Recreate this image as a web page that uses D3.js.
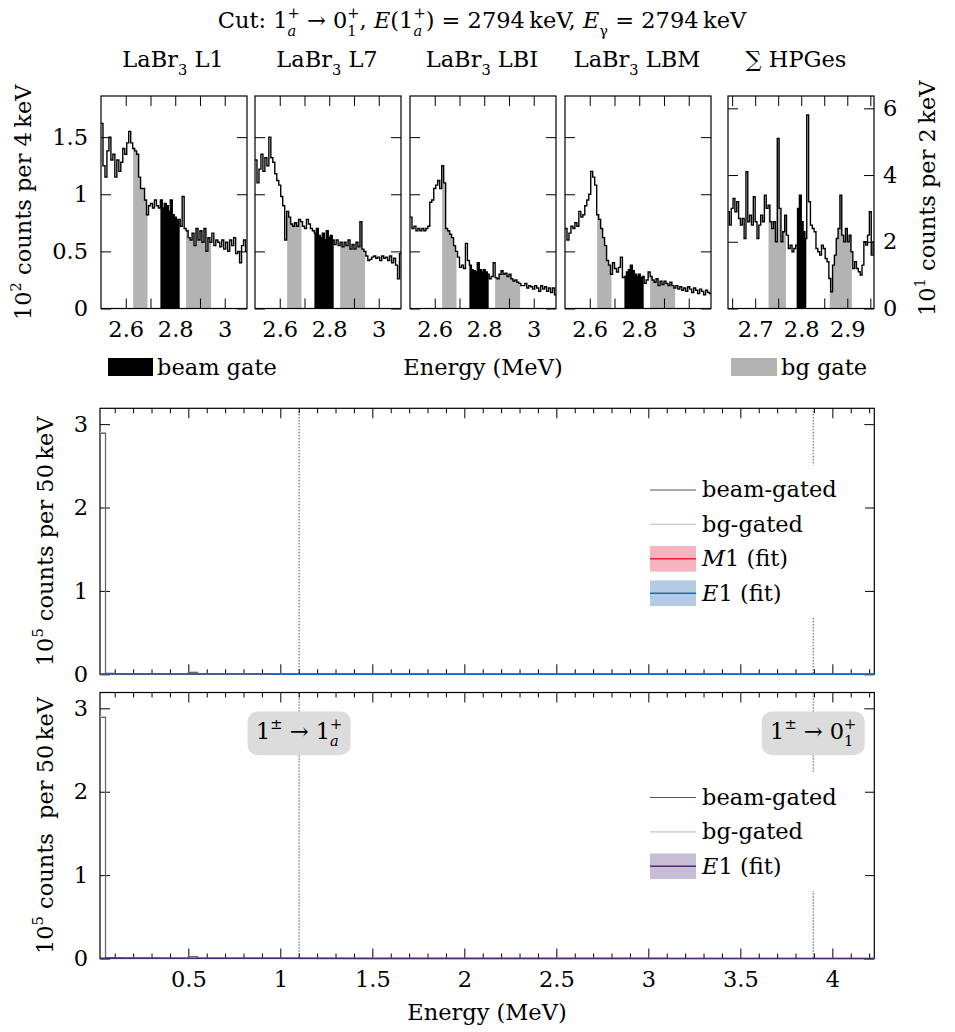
<!DOCTYPE html>
<html>
<head>
<meta charset="utf-8">
<script src="https://cdn.jsdelivr.net/npm/d3@7"></script>
<style>
  body { margin: 0; background: #fff; }
  svg, svg text { font-family: 'DejaVu Serif', 'Liberation Serif', serif; }
</style>
</head>
<body>
<svg id="drawing_region"></svg>
<script>
// ---- data: gated spectra (top row), units of 10^2 counts (LaBr) and 10^1 counts (HPGe)
const labrStart = 2.5, labrStep = 0.008;   // MeV
const hpgeStart = 2.64, hpgeStep = 0.004;  // MeV

const l1Counts = [1.62, 1.25, 1.15, 1.38, 1.5, 1.3, 1.35, 1.15, 1.3, 1.2,
  1.28, 1.4, 1.35, 1.45, 1.55, 1.45, 1.4, 1.38, 1.35, 1.15,
  1.05, 1.05, 0.95, 0.82, 0.9, 0.92, 0.88, 0.95, 0.9, 0.88,
  0.95, 0.88, 0.92, 0.9, 0.85, 0.95, 0.82, 0.8, 0.78, 0.78,
  0.72, 0.98, 0.7, 0.68, 0.62, 0.6, 0.66, 0.55, 0.7, 0.6,
  0.68, 0.58, 0.7, 0.5, 0.62, 0.58, 0.66, 0.55, 0.6, 0.58,
  0.54, 0.6, 0.52, 0.58, 0.5, 0.6, 0.55, 0.62, 0.48, 0.5,
  0.4, 0.55, 0.6, 0.5];

const l7Counts = [1.3, 1.1, 1.22, 1.35, 1.2, 1.32, 1.25, 1.5, 1.32, 1.28,
  1.18, 1.12, 1.08, 0.98, 0.9, 0.6, 0.85, 0.8, 0.74, 0.72,
  0.75, 0.72, 0.78, 0.76, 0.72, 0.7, 0.78, 0.74, 0.7, 0.68,
  0.66, 0.7, 0.64, 0.62, 0.66, 0.6, 0.68, 0.62, 0.64, 0.6,
  0.56, 0.6, 0.55, 0.58, 0.54, 0.58, 0.55, 0.6, 0.52, 0.56,
  0.52, 0.58, 0.54, 0.76, 0.52, 0.5, 0.46, 0.42, 0.43, 0.45,
  0.46, 0.44, 0.45, 0.42, 0.46, 0.44, 0.45, 0.42, 0.46, 0.4,
  0.44, 0.38, 0.26, 0.48];

const lbiCounts = [0.8, 0.7, 0.72, 0.68, 0.7, 0.68, 0.7, 0.68, 0.7, 0.72,
  0.93, 0.95, 1.05, 1.08, 1.12, 1.05, 1.25, 1.1, 0.7, 0.68,
  0.65, 0.62, 0.55, 0.5, 0.45, 0.36, 0.38, 0.35, 0.57, 0.42,
  0.38, 0.34, 0.33, 0.32, 0.4, 0.34, 0.32, 0.34, 0.32, 0.3,
  0.26, 0.28, 0.4, 0.27, 0.26, 0.3, 0.33, 0.3, 0.31, 0.28,
  0.3, 0.26, 0.24, 0.25, 0.23, 0.22, 0.2, 0.2, 0.22, 0.18,
  0.2, 0.19, 0.17, 0.2, 0.18, 0.15, 0.2, 0.17, 0.19, 0.15,
  0.18, 0.14, 0.18, 0.12];

const lbmCounts = [0.7, 0.6, 0.66, 0.72, 0.7, 0.75, 0.72, 0.85, 0.8, 0.82,
  0.9, 0.95, 1.0, 1.2, 1.15, 1.08, 0.82, 0.78, 0.7, 0.62,
  0.55, 0.42, 0.38, 0.3, 0.4, 0.35, 0.32, 0.36, 0.45, 0.27,
  0.28, 0.32, 0.34, 0.38, 0.33, 0.3, 0.28, 0.3, 0.27, 0.28,
  0.22, 0.25, 0.32, 0.28, 0.25, 0.23, 0.26, 0.2, 0.24, 0.21,
  0.24, 0.22, 0.2, 0.23, 0.2, 0.18, 0.2, 0.17, 0.19, 0.16,
  0.18, 0.15, 0.19, 0.17, 0.14, 0.18, 0.16, 0.13, 0.17, 0.15,
  0.12, 0.16, 0.14, 0.13];

const hpgeCounts = [2.9, 2.5, 3.0, 3.3, 2.9, 3.2, 2.7, 2.5, 2.7, 2.1,
  4.1, 2.6, 2.8, 2.5, 3.35, 2.6, 2.1, 2.5, 2.8, 2.6,
  3.4, 3.0, 3.1, 2.6, 2.4, 2.6, 2.0, 5.1, 3.0, 2.0,
  2.3, 2.8, 2.2, 1.8, 1.9, 1.7, 1.8, 1.9, 3.0, 3.4,
  2.6, 2.3, 2.1, 5.8, 3.2, 2.5, 2.4, 2.3, 1.8, 1.7,
  1.6, 1.9, 1.8, 1.5, 1.4, 0.9, 0.5, 1.3, 1.6, 2.1,
  2.4, 3.4, 2.2, 2.0, 2.4, 2.0, 2.2, 1.7, 1.2, 1.4,
  1.2, 1.1, 1.0, 1.3, 2.0, 1.9, 2.2, 2.9, 1.6, 2.0];

const labrBeamGate = [2.74, 2.818];
const labrBgGates = [[2.63, 2.688], [2.844, 2.945]];
const hpgeBeamGate = [2.790, 2.811];
const hpgeBgGates = [[2.729, 2.767], [2.862, 2.910]];

const labrTicks = [2.6, 2.7, 2.8, 2.9, 3.0];
const labrTickLabels = [2.6, 2.8, 3];
const hpgeTicks = [2.65, 2.7, 2.75, 2.8, 2.85, 2.9, 2.95];
const hpgeTickLabels = [2.7, 2.8, 2.9];
const labrYTicks = [0, 0.5, 1, 1.5];
const hpgeYTicks = [0, 2, 4, 6];

// ---- data: full spectra (lower panels), units of 10^5 counts per 50 keV, bins from 0 MeV
const wideStep = 0.05;
const beamGated = [2.89, 0.011, 0.008, 0.006, 0.005, 0.004, 0.004, 0.003, 0.003, 0.003,
  0.024, 0.003, 0.002, 0.002, 0.002, 0.002, 0.002, 0.002, 0.0015, 0.0015,
  0.0015, 0.0015, 0.0015, 0.0012, 0.0012, 0.0012, 0.0012, 0.001, 0.001, 0.001,
  0.001, 0.001, 0.001, 0.0009, 0.0009, 0.0009, 0.0008, 0.0008, 0.0008, 0.0008,
  0.0007, 0.0007, 0.0007, 0.0007, 0.0006, 0.0006, 0.0006, 0.0006, 0.0006, 0.0005,
  0.0005, 0.0005, 0.0005, 0.0005, 0.0005, 0.0004, 0.0004, 0.0004, 0.0004, 0.0004,
  0.0004, 0.0004, 0.0003, 0.0003, 0.0003, 0.0003, 0.0003, 0.0003, 0.0003, 0.0003,
  0.0003, 0.0003, 0.0002, 0.0002, 0.0002, 0.0002, 0.0002, 0.0002, 0.0002, 0.0002,
  0.0002, 0.0002, 0.0002, 0.0002, 0.0002];
const bgGated = [2.9, 0.012, 0.008, 0.006, 0.005, 0.004, 0.004, 0.003, 0.003, 0.003,
  0.023, 0.003, 0.002, 0.002, 0.002, 0.002, 0.002, 0.002, 0.0015, 0.0015,
  0.0015, 0.0015, 0.0015, 0.0012, 0.0012, 0.0012, 0.0012, 0.001, 0.001, 0.001,
  0.001, 0.001, 0.001, 0.0009, 0.0009, 0.0009, 0.0008, 0.0008, 0.0008, 0.0008,
  0.0007, 0.0007, 0.0007, 0.0007, 0.0006, 0.0006, 0.0006, 0.0006, 0.0006, 0.0005,
  0.0005, 0.0005, 0.0005, 0.0005, 0.0005, 0.0004, 0.0004, 0.0004, 0.0004, 0.0004,
  0.0004, 0.0004, 0.0003, 0.0003, 0.0003, 0.0003, 0.0003, 0.0003, 0.0003, 0.0003,
  0.0003, 0.0003, 0.0002, 0.0002, 0.0002, 0.0002, 0.0002, 0.0002, 0.0002, 0.0002,
  0.0002, 0.0002, 0.0002, 0.0002, 0.0002];

const fitEnergy = [0.02, 0.5, 1.0, 1.5, 2.0, 2.5, 3.0, 3.5, 4.0, 4.23];
const m1Fit = [0.004, 0.003, 0.002, 0.0015, 0.0012, 0.001, 0.0008, 0.0006, 0.0005, 0.0004];
const e1Fit = [0.004, 0.003, 0.002, 0.0015, 0.0012, 0.001, 0.0008, 0.0006, 0.0005, 0.0004];
const e1FitBottom = [0.004, 0.003, 0.002, 0.0015, 0.0012, 0.001, 0.0008, 0.0006, 0.0005, 0.0004];

const transitionEnergies = [1.102, 3.896];
const wideMajorTicks = [0.5, 1, 1.5, 2, 2.5, 3, 3.5, 4];
const wideMinorTicks = [0.1, 0.2, 0.3, 0.4, 0.6, 0.7, 0.8, 0.9, 1.1, 1.2, 1.3, 1.4, 1.6, 1.7, 1.8, 1.9,
  2.1, 2.2, 2.3, 2.4, 2.6, 2.7, 2.8, 2.9, 3.1, 3.2, 3.3, 3.4, 3.6, 3.7, 3.8, 3.9, 4.1, 4.2];
const wideYTicks = [0, 1, 2, 3];

// ---- drawing
const FS = 22.5;
const GATE_GRAY = '#b3b3b3';
const svg = d3.select('#drawing_region').attr('width', 955).attr('height', 1032);

// text with super-/subscripts; a 'stack' part is set under the preceding superscript
function richText(parent, parts, size) {
    const text = parent.append('text').attr('font-size', size).attr('fill', '#000');
    let level = 0, supW = 0, pendingDx = 0;
    parts.forEach(p => {
        const target = p.s === 'sup' ? -0.44 * size : (p.s === 'sub' ? 0.34 * size : 0);
        const ts = text.append('tspan').text(p.t).attr('dy', target - level);
        level = target;
        if (p.s) ts.attr('font-size', size * 0.65);
        if (p.i) ts.attr('font-style', 'italic');
        if (p.stack) {
            ts.attr('dx', -supW);
            const w = ts.node().getComputedTextLength();
            pendingDx = Math.max(0, supW - w);
        } else {
            if (pendingDx) ts.attr('dx', pendingDx);
            pendingDx = 0;
        }
        if (p.s === 'sup') supW = ts.node().getComputedTextLength();
    });
    return text;
}

function styleAxis(g) {
    g.attr('font-family', null).attr('font-size', null);
    g.select('.domain').remove();
    g.selectAll('.tick line').attr('stroke', '#000').attr('stroke-width', 1);
    g.selectAll('.tick text').attr('font-size', FS).attr('fill', '#000');
}

function histPoints(counts, start, step) {
    const pts = counts.map((v, i) => [start + i * step, v]);
    pts.push([start + counts.length * step, counts[counts.length - 1]]);
    return pts;
}

function gatePoints(counts, start, step, gate) {
    const pts = [];
    counts.forEach((v, i) => {
        const e0 = start + i * step, e1 = e0 + step;
        if (e1 > gate[0] && e0 < gate[1]) pts.push([Math.max(e0, gate[0]), v]);
    });
    pts.push([gate[1], pts[pts.length - 1][1]]);
    return pts;
}

// title
richText(svg, [{ t: 'Cut:  1' }, { t: '+', s: 'sup' }, { t: 'a', s: 'sub', i: true, stack: true },
    { t: ' \u2192 0' }, { t: '+', s: 'sup' }, { t: '1', s: 'sub', stack: true }, { t: ', ' },
    { t: 'E', i: true }, { t: '(1' }, { t: '+', s: 'sup' }, { t: 'a', s: 'sub', i: true, stack: true },
    { t: ') = 2794\u2009keV, ' }, { t: 'E', i: true }, { t: '\u03b3', s: 'sub' }, { t: ' = 2794\u2009keV' }], FS)
    .attr('x', 482).attr('y', 28).attr('text-anchor', 'middle');

const insetTop = 96, insetHeight = 212.5, insetWidth = 146;
const insets = [
    { id: 'l1', name: 'L1', left: 101, counts: l1Counts, labr: true, yLabels: true },
    { id: 'l7', name: 'L7', left: 255, counts: l7Counts, labr: true },
    { id: 'lbi', name: 'LBI', left: 410, counts: lbiCounts, labr: true },
    { id: 'lbm', name: 'LBM', left: 565, counts: lbmCounts, labr: true },
    { id: 'hpge', name: 'HPGes', left: 728, counts: hpgeCounts, labr: false }
];

insets.forEach(cfg => {
    const start = cfg.labr ? labrStart : hpgeStart;
    const step = cfg.labr ? labrStep : hpgeStep;
    const x = d3.scaleLinear().domain(cfg.labr ? [2.5, 3.09] : [2.641, 2.958]).range([0, insetWidth]);
    const y = d3.scaleLinear().domain(cfg.labr ? [0, 1.86] : [0, 6.37]).range([insetHeight, 0]);
    const g = svg.append('g').attr('transform', `translate(${cfg.left},${insetTop})`);

    g.append('clipPath').attr('id', 'clip-' + cfg.id)
        .append('rect').attr('width', insetWidth).attr('height', insetHeight);
    const plot = g.append('g').attr('clip-path', `url(#clip-${cfg.id})`);

    const area = d3.area().curve(d3.curveStepAfter)
        .x(d => x(d[0])).y0(insetHeight).y1(d => y(d[1]));
    const line = d3.line().curve(d3.curveStepAfter)
        .x(d => x(d[0])).y(d => y(d[1]));

    (cfg.labr ? labrBgGates : hpgeBgGates).forEach(gate => {
        plot.append('path').attr('d', area(gatePoints(cfg.counts, start, step, gate))).attr('fill', GATE_GRAY);
    });
    plot.append('path')
        .attr('d', area(gatePoints(cfg.counts, start, step, cfg.labr ? labrBeamGate : hpgeBeamGate)))
        .attr('fill', '#000');
    plot.append('path').attr('d', line(histPoints(cfg.counts, start, step)))
        .attr('fill', 'none').attr('stroke', '#000').attr('stroke-width', 1.4);

    const ticks = cfg.labr ? labrTicks : hpgeTicks;
    const labels = cfg.labr ? labrTickLabels : hpgeTickLabels;
    const fmt = d => labels.some(l => Math.abs(l - d) < 1e-6) ? String(+d.toFixed(2)) : '';
    const yTicks = cfg.labr ? labrYTicks : hpgeYTicks;

    g.append('g').attr('transform', `translate(0,${insetHeight})`)
        .call(d3.axisBottom(x).tickValues(ticks).tickSizeInner(-10).tickSizeOuter(0).tickPadding(13).tickFormat(fmt))
        .call(styleAxis);
    g.append('g')
        .call(d3.axisTop(x).tickValues(ticks).tickSizeInner(-10).tickSizeOuter(0).tickFormat(''))
        .call(styleAxis);
    g.append('g')
        .call(d3.axisLeft(y).tickValues(yTicks).tickSizeInner(-10).tickSizeOuter(0).tickPadding(13)
            .tickFormat(cfg.yLabels ? d => d : ''))
        .call(styleAxis);
    g.append('g').attr('transform', `translate(${insetWidth},0)`)
        .call(d3.axisRight(y).tickValues(yTicks).tickSizeInner(-10).tickSizeOuter(0).tickPadding(9)
            .tickFormat(cfg.labr ? '' : d => d))
        .call(styleAxis);

    g.append('rect').attr('width', insetWidth).attr('height', insetHeight)
        .attr('fill', 'none').attr('stroke', '#000').attr('stroke-width', 1.2);

    const nameParts = cfg.labr ? [{ t: 'LaBr' }, { t: '3', s: 'sub' }, { t: ' ' + cfg.name }] : [{ t: '\u2211 HPGes' }];
    richText(g, nameParts, FS).attr('x', insetWidth / 2 - (cfg.labr ? 1 : 5)).attr('y', 67 - insetTop)
        .attr('text-anchor', 'middle');
});

richText(svg, [{ t: '10' }, { t: '2', s: 'sup' }, { t: ' counts per 4\u2009keV' }], FS)
    .attr('text-anchor', 'middle').attr('transform', `translate(31,${insetTop + insetHeight / 2}) rotate(-90)`);
richText(svg, [{ t: '10' }, { t: '1', s: 'sup' }, { t: ' counts per 2\u2009keV' }], FS)
    .attr('text-anchor', 'middle').attr('transform', `translate(935,${insetTop + insetHeight / 2 - 4}) rotate(-90)`);

// gate legend row
svg.append('rect').attr('x', 108).attr('y', 358).attr('width', 45).attr('height', 18).attr('fill', '#000');
svg.append('text').attr('x', 157).attr('y', 375).attr('font-size', FS).text('beam gate');
svg.append('text').attr('x', 483).attr('y', 375).attr('font-size', FS).attr('text-anchor', 'middle').text('Energy (MeV)');
svg.append('rect').attr('x', 731).attr('y', 358).attr('width', 46).attr('height', 18).attr('fill', GATE_GRAY);
svg.append('text').attr('x', 781).attr('y', 375).attr('font-size', FS).text('bg gate');

// ---- lower panels
const wideLeft = 100, wideWidth = 774.3, wideHeight = 266;
const wx = d3.scaleLinear().domain([0.02, 4.228]).range([0, wideWidth]);
const wy = d3.scaleLinear().domain([0, 3.19]).range([wideHeight, 0]);

const widePanels = [
    {
        id: 'm1e1', top: 408.3, xLabels: false,
        fits: [{ values: m1Fit, band: '#f5b4be', color: '#e3212c', label: [{ t: 'M', i: true }, { t: '1 (fit)' }] },
               { values: e1Fit, band: '#b3cce3', color: '#1c68b0', label: [{ t: 'E', i: true }, { t: '1 (fit)' }] }],
        legendY: 490,
        ylabel: [{ t: '10' }, { t: '5', s: 'sup' }, { t: ' counts per 50\u2009keV' }]
    },
    {
        id: 'e1', top: 692.5, xLabels: true,
        fits: [{ values: e1FitBottom, band: '#c8bdd7', color: '#4b2b73', label: [{ t: 'E', i: true }, { t: '1 (fit)' }] }],
        legendY: 797.5, boxes: true,
        ylabel: [{ t: '10' }, { t: '5', s: 'sup' }, { t: ' counts\u00a0 per 50\u2009keV' }]
    }
];

widePanels.forEach(cfg => {
    const g = svg.append('g').attr('transform', `translate(${wideLeft},${cfg.top})`);
    g.append('clipPath').attr('id', 'clip-' + cfg.id)
        .append('rect').attr('y', -2).attr('width', wideWidth).attr('height', wideHeight + 4);

    g.append('rect').attr('width', wideWidth).attr('height', wideHeight)
        .attr('fill', 'none').attr('stroke', '#000').attr('stroke-width', 1.2);

    // ticks inside the frame: minor every 0.1 MeV, major every 0.5 MeV
    g.append('g').attr('transform', `translate(0,${wideHeight})`)
        .call(d3.axisBottom(wx).tickValues(wideMinorTicks).tickSizeInner(-5).tickSizeOuter(0).tickFormat(''))
        .call(styleAxis);
    g.append('g')
        .call(d3.axisTop(wx).tickValues(wideMinorTicks).tickSizeInner(-5).tickSizeOuter(0).tickFormat(''))
        .call(styleAxis);
    g.append('g')
        .call(d3.axisTop(wx).tickValues(wideMajorTicks).tickSizeInner(-10).tickSizeOuter(0).tickFormat(''))
        .call(styleAxis);
    g.append('g').attr('transform', `translate(0,${wideHeight})`)
        .call(d3.axisBottom(wx).tickValues(wideMajorTicks).tickSizeInner(-10).tickSizeOuter(0).tickPadding(13)
            .tickFormat(cfg.xLabels ? d => d : ''))
        .call(styleAxis);
    g.append('g')
        .call(d3.axisLeft(wy).tickValues(wideYTicks).tickSizeInner(-10).tickSizeOuter(0).tickPadding(12)
            .tickFormat(d => d))
        .call(styleAxis);
    g.append('g').attr('transform', `translate(${wideWidth},0)`)
        .call(d3.axisRight(wy).tickValues(wideYTicks).tickSizeInner(-10).tickSizeOuter(0).tickFormat(''))
        .call(styleAxis);

    // transition markers
    transitionEnergies.forEach(e => {
        g.append('line').attr('x1', wx(e)).attr('x2', wx(e)).attr('y1', 0).attr('y2', wideHeight)
            .attr('stroke', '#000').attr('stroke-width', 1).attr('stroke-dasharray', '1,2');
    });

    const plot = g.append('g').attr('clip-path', `url(#clip-${cfg.id})`);
    const line = d3.line().curve(d3.curveStepAfter).x(d => wx(d[0])).y(d => wy(d[1]));
    plot.append('path').attr('d', line(histPoints(bgGated, 0, wideStep)))
        .attr('fill', 'none').attr('stroke', '#c4c4c4').attr('stroke-width', 1.2);
    plot.append('path').attr('d', line(histPoints(beamGated, 0, wideStep)))
        .attr('fill', 'none').attr('stroke', '#666').attr('stroke-width', 1.2);

    const fitLine = d3.line().x((d, i) => wx(fitEnergy[i])).y(d => wy(d));
    const fitBand = d3.area().x((d, i) => wx(fitEnergy[i])).y0(d => wy(d * 0.8)).y1(d => wy(d * 1.2));
    cfg.fits.forEach(f => {
        plot.append('path').attr('d', fitBand(f.values)).attr('fill', f.band);
        plot.append('path').attr('d', fitLine(f.values)).attr('fill', 'none')
            .attr('stroke', f.color).attr('stroke-width', 1.5);
    });

    // legend
    const entries = [
        { label: [{ t: 'beam-gated' }], color: '#555', width: 1.2 },
        { label: [{ t: 'bg-gated' }], color: '#c8c8c8', width: 1.2 }
    ].concat(cfg.fits.map(f => ({ label: f.label, color: f.color, band: f.band, width: 1.5 })));
    const rowH = 34.4;
    const ly0 = cfg.legendY - cfg.top;
    g.append('rect').attr('x', 535).attr('y', ly0 - 24.5)
        .attr('width', 230).attr('height', (entries.length - 1) * rowH + 49).attr('fill', '#fff');
    entries.forEach((en, i) => {
        const yy = ly0 + i * rowH;
        if (en.band) g.append('rect').attr('x', 550).attr('y', yy - 12.8).attr('width', 46).attr('height', 25.6).attr('fill', en.band);
        g.append('line').attr('x1', 550).attr('x2', 596).attr('y1', yy).attr('y2', yy)
            .attr('stroke', en.color).attr('stroke-width', en.width);
        richText(g, en.label, FS).attr('x', 602).attr('y', yy + 7.5);
    });

    if (cfg.boxes) {
        transitionEnergies.forEach((e, i) => {
            const cx = wx(e);
            g.append('rect').attr('x', cx - 51.5).attr('y', 19).attr('width', 103).attr('height', 43.5)
                .attr('rx', 10).attr('fill', '#dcdcdc');
            const parts = i === 0
                ? [{ t: '1' }, { t: '\u00b1', s: 'sup' }, { t: ' \u2192 1' }, { t: '+', s: 'sup' }, { t: 'a', s: 'sub', i: true, stack: true }]
                : [{ t: '1' }, { t: '\u00b1', s: 'sup' }, { t: ' \u2192 0' }, { t: '+', s: 'sup' }, { t: '1', s: 'sub', stack: true }];
            richText(g, parts, FS).attr('x', cx).attr('y', 46).attr('text-anchor', 'middle');
        });
    }

    richText(svg, cfg.ylabel, FS).attr('text-anchor', 'middle')
        .attr('transform', `translate(53,${cfg.top + wideHeight / 2}) rotate(-90)`);
});

svg.append('text').attr('x', 487).attr('y', 1020).attr('font-size', FS).attr('text-anchor', 'middle').text('Energy (MeV)');
</script>
</body>
</html>
